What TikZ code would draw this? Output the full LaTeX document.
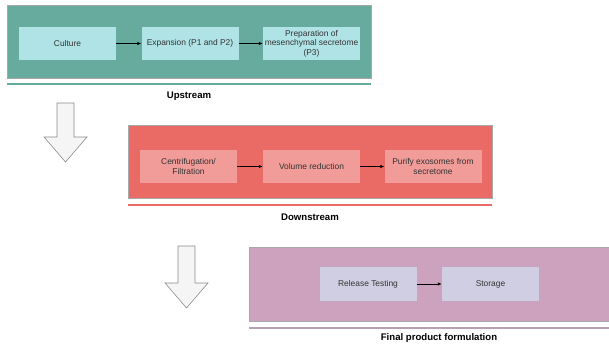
\documentclass[tikz,border=0pt]{standalone}
\usepackage{fontspec}
\setmainfont{Liberation Sans}
\definecolor{upfill}{HTML}{67AB9F}
\definecolor{upin}{HTML}{B0E3E6}
\definecolor{dnfill}{HTML}{EA6B66}
\definecolor{dnin}{HTML}{F19C99}
\definecolor{fnfill}{HTML}{CDA2BE}
\definecolor{fnin}{HTML}{D0CEE2}
\definecolor{fnline}{HTML}{B5A1AF}
\definecolor{outline}{HTML}{A8A8A8}
\begin{document}
\begin{tikzpicture}[x=1pt,y=-1pt,
  stage/.style={draw=outline,line width=0.7pt,rectangle,inner sep=0pt,anchor=north west},
  stepbox/.style={rectangle,draw=none,inner sep=1pt,minimum width=97pt,minimum height=33pt,align=center,font=\fontsize{8.4}{9.6}\selectfont,text=black!80},
  flow/.style={-{Latex[length=4pt,width=3.5pt]},line width=0.8pt,black},
  divider/.style={line width=2pt},
  title/.style={font=\bfseries\fontsize{9.6}{11}\selectfont},
  bigarrow/.style={fill=black!4,draw=black!45,line width=0.6pt}]
\useasboundingbox (0,0) rectangle (609,347);
\usetikzlibrary{arrows.meta}
% Upstream
\node[stage,fill=upfill,minimum width=364pt,minimum height=73pt] (up) at (7,5) {};
\node[stepbox,fill=upin] (culture) at (67.5,43.5) {Culture};
\node[stepbox,fill=upin] (expansion) at (190,43.5) {Expansion (P1 and P2)};
\node[stepbox,fill=upin] (prep) at (311.5,43.5) {Preparation of\\mesenchymal secretome\\(P3)};
\draw[flow] (culture) -- (expansion);
\draw[flow] (expansion) -- (prep);
\coordinate (upL) at (7,84.5);
\coordinate (upR) at (371,84.5);
\draw[divider,upfill] (upL) -- (upR);
\node[title] (uptitle) at (189,96) {Upstream};
% Downstream
\node[stage,fill=dnfill,minimum width=364pt,minimum height=73pt] (down) at (128,125) {};
\node[stepbox,fill=dnin] (centri) at (188.5,166.5) {Centrifugation/\\Filtration};
\node[stepbox,fill=dnin] (volume) at (311.5,166.5) {Volume reduction};
\node[stepbox,fill=dnin] (purify) at (433,166.5) {Purify exosomes from\\secretome};
\draw[flow] (centri) -- (volume);
\draw[flow] (volume) -- (purify);
\coordinate (dnL) at (128,205);
\coordinate (dnR) at (492,205);
\draw[divider,dnfill] (dnL) -- (dnR);
\node[title] (dntitle) at (310,217) {Downstream};
% Final
\node[stage,fill=fnfill,minimum width=360pt,minimum height=74pt] (final) at (249,247) {};
\node[stepbox,fill=fnin,minimum height=34pt] (release) at (368,284) {Release Testing};
\node[stepbox,fill=fnin,minimum height=34pt] (storage) at (490.5,284) {Storage};
\draw[flow] (release) -- (storage);
\coordinate (fnL) at (249,328);
\coordinate (fnR) at (609,328);
\draw[divider,fnline] (fnL) -- (fnR);
\node[title] (fntitle) at (439,338) {Final product formulation};
% Block arrows
\draw[bigarrow] (57,103) -- (74,103) -- (74,137) -- (87,137) -- (65.5,162) -- (44,137) -- (57,137) -- cycle;
\draw[bigarrow] (178,246) -- (195,246) -- (195,283) -- (208,283) -- (186.5,308) -- (165,283) -- (178,283) -- cycle;
\end{tikzpicture}
\end{document}
